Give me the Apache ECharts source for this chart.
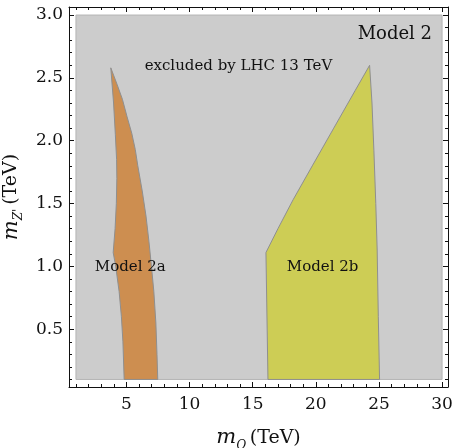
<!DOCTYPE html>
<html><head><meta charset="utf-8">
<script src="https://cdn.jsdelivr.net/npm/echarts@6/dist/echarts.min.js"></script>
<style>html,body{margin:0;padding:0;background:#fff}#c{width:454px;height:448px}</style>
</head><body><div id="c"></div>
<script>
// ---- data ----
const xTickLabels = [5, 10, 15, 20, 25, 30];
const yTickLabels = [0.5, 1.0, 1.5, 2.0, 2.5, 3.0];
const xMinorTicks = [1,2,3,4,5,6,7,8,9,10,11,12,13,14,15,16,17,18,19,20,21,22,23,24,25,26,27,28,29,30];
const yMinorTicks = [0.1,0.2,0.3,0.4,0.5,0.6,0.7,0.8,0.9,1.0,1.1,1.2,1.3,1.4,1.5,1.6,1.7,1.8,1.9,2.0,2.1,2.2,2.3,2.4,2.5,2.6,2.7,2.8,2.9,3.0];

const excludedX = [1, 30];
const excludedY = [0.1, 3.0];

const model2aX = [3.76, 4.25, 4.68, 5.05, 5.42, 5.70, 5.90, 6.25, 6.55, 6.78, 6.98, 7.17, 7.33, 7.42, 7.48,
                  4.82, 4.72, 4.60, 4.42, 4.15, 3.95, 4.10, 4.20, 4.24, 4.22, 4.12, 3.98];
const model2aY = [2.58, 2.45, 2.33, 2.19, 2.06, 1.93, 1.80, 1.60, 1.40, 1.20, 1.00, 0.80, 0.55, 0.30, 0.10,
                  0.10, 0.40, 0.60, 0.80, 1.00, 1.11, 1.30, 1.50, 1.70, 1.85, 2.05, 2.30];

const model2bX = [24.26, 24.45, 24.60, 24.75, 24.86, 24.95, 25.05, 16.21, 16.05, 17.00, 18.20, 19.72, 21.42, 23.12];
const model2bY = [2.60, 2.30, 1.92, 1.50, 1.13, 0.60, 0.10, 0.10, 1.11, 1.30, 1.53, 1.80, 2.10, 2.40];

const annotationText = ['excluded by LHC 13 TeV', 'Model 2', 'Model 2a', 'Model 2b'];
const annotationX = [13.87, 26.26, 5.30, 20.54];
const annotationY = [2.597, 2.847, 0.998, 0.996];

// ---- chart ----
const FONT = 'DejaVu Serif';
const TXT = '#111111';
const chart = echarts.init(document.getElementById('c'), null, {renderer: 'canvas'});

function polygonSeries(xs, ys, fill, stroke, z) {
  return {
    type: 'custom', xAxisIndex: 0, yAxisIndex: 0, z: z, silent: true,
    data: xs.map((x, i) => [x, ys[i]]),
    renderItem: function (params, api) {
      if (params.dataIndex !== 0) return null;
      const pts = xs.map((x, i) => api.coord([x, ys[i]]));
      return {type: 'polygon', shape: {points: pts}, style: {fill: fill, stroke: stroke, lineWidth: 1}};
    }
  };
}

const richName = {
  m: {fontFamily: FONT, fontStyle: 'italic', fontSize: 21, lineHeight: 28, color: TXT},
  s: {fontFamily: FONT, fontStyle: 'italic', fontSize: 12, verticalAlign: 'bottom', color: TXT},
  t: {fontFamily: FONT, fontSize: 19, color: TXT}
};

const tickLine = {color: '#111', width: 1};
function xAx(pos, major, showLine, showLabel, name) {
  const a = {
    type: 'value', min: 0.45, max: 30.47, position: pos,
    axisLine: {show: showLine, lineStyle: tickLine},
    axisTick: {show: true, inside: true, length: major ? 5 : 3, lineStyle: tickLine,
               customValues: major ? xTickLabels : xMinorTicks},
    axisLabel: {show: showLabel, customValues: xTickLabels, fontFamily: FONT, fontSize: 17, color: TXT, margin: 9},
    splitLine: {show: false}
  };
  if (name) {
    a.name = '{m|m}{s|Q} {t|(TeV)}';
    a.nameLocation = 'middle';
    a.nameGap = 37;
    a.nameTextStyle = {fontFamily: FONT, color: TXT, rich: richName};
  }
  return a;
}
function yAx(pos, major, showLine, showLabel, name) {
  const a = {
    type: 'value', min: 0.04, max: 3.064, position: pos,
    axisLine: {show: showLine, lineStyle: tickLine},
    axisTick: {show: true, inside: true, length: major ? 5 : 3, lineStyle: tickLine,
               customValues: major ? yTickLabels : yMinorTicks},
    axisLabel: {show: showLabel, customValues: yTickLabels, fontFamily: FONT, fontSize: 17, color: TXT, margin: 6,
                formatter: v => Number(v).toFixed(1)},
    splitLine: {show: false}
  };
  if (name) {
    a.name = "{m|m}{s|Z'} {t|(TeV)}";
    a.nameLocation = 'middle';
    a.nameGap = 40;
    a.nameTextStyle = {fontFamily: FONT, color: TXT, rich: richName};
  }
  return a;
}

const option = {
  animation: false,
  backgroundColor: '#ffffff',
  grid: {left: 69, top: 7, right: 6, bottom: 61, containLabel: false, outerBoundsMode: 'none'},
  xAxis: [
    xAx('bottom', true, true, true, true),
    xAx('bottom', false, false, false, false),
    xAx('top', true, true, false, false),
    xAx('top', false, false, false, false)
  ],
  yAxis: [
    yAx('left', true, true, true, true),
    yAx('left', false, false, false, false),
    yAx('right', true, true, false, false),
    yAx('right', false, false, false, false)
  ],
  series: [
    {
      type: 'custom', xAxisIndex: 0, yAxisIndex: 0, z: 1, silent: true,
      data: [[excludedX[0], excludedY[0], excludedX[1], excludedY[1]]],
      renderItem: function (params, api) {
        const p0 = api.coord([api.value(0), api.value(3)]);
        const p1 = api.coord([api.value(2), api.value(1)]);
        return {type: 'rect', shape: {x: p0[0], y: p0[1], width: p1[0] - p0[0], height: p1[1] - p0[1]},
                style: {fill: '#cccccc', stroke: '#b4b4b4', lineWidth: 1}};
      }
    },
    polygonSeries(model2aX, model2aY, '#cd8e50', '#8f8f8f', 2),
    polygonSeries(model2bX, model2bY, '#cdcd55', '#8f8f8f', 2),
    {
      type: 'scatter', xAxisIndex: 0, yAxisIndex: 0, z: 5, silent: true,
      symbolSize: 0,
      itemStyle: {opacity: 1},
      data: annotationText.map((t, i) => ({
        value: [annotationX[i], annotationY[i]],
        label: {show: true, position: 'inside', formatter: t, fontFamily: FONT, fontSize: i === 1 ? 18 : 15, color: TXT}
      })),
      label: {show: true, position: 'inside', fontFamily: FONT, color: TXT}
    }
  ]
};
chart.setOption(option);
</script>
</body></html>
